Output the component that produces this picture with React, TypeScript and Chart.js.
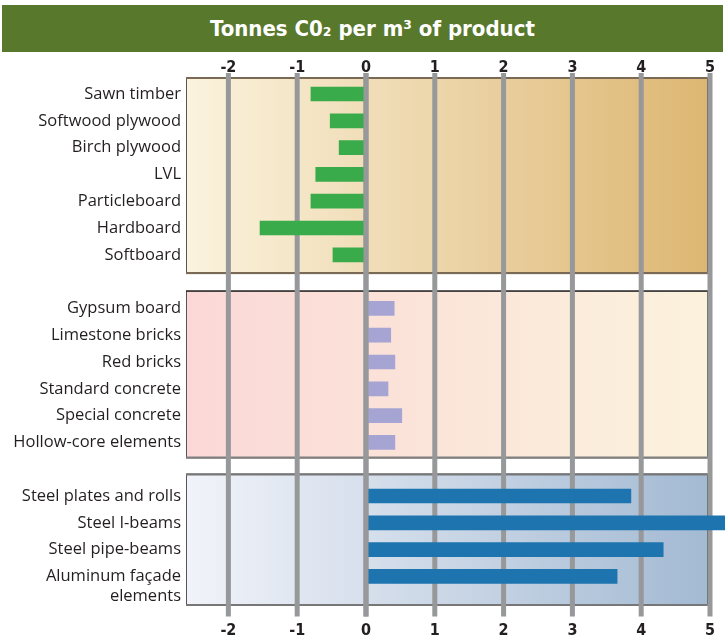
import React, { useEffect, useRef } from 'react';
import { Chart, registerables } from 'chart.js';

Chart.register(...registerables);

// ---------- data ----------
const titleText = 'Tonnes C0\u2082 per m\u00B3 of product';

const woodLabels = ['Sawn timber', 'Softwood plywood', 'Birch plywood', 'LVL', 'Particleboard', 'Hardboard', 'Softboard'];
const woodValues = [-0.8, -0.52, -0.39, -0.73, -0.8, -1.54, -0.48];

const mineralLabels = ['Gypsum board', 'Limestone bricks', 'Red bricks', 'Standard concrete', 'Special concrete', 'Hollow-core elements'];
const mineralValues = [0.41, 0.36, 0.42, 0.32, 0.52, 0.42];

const metalLabels: (string | string[])[] = ['Steel plates and rolls', 'Steel I-beams', 'Steel pipe-beams', ['Aluminum façade', 'elements']];
const metalValues = [3.85, 5.3, 4.32, 3.65];

const xTicks = [-2, -1, 0, 1, 2, 3, 4, 5];
const xMin = -2.616;
const xMax = 5.218;

// ---------- derived ----------
const categories: (string | string[])[] = [...woodLabels, '', ...mineralLabels, ' ', ...metalLabels];
const pad = (n: number) => Array(n).fill(null);
const woodData = [...woodValues, ...pad(1 + mineralLabels.length + 1 + metalLabels.length)];
const mineralData = [...pad(woodLabels.length + 1), ...mineralValues, ...pad(1 + metalLabels.length)];
const metalData = [...pad(woodLabels.length + 1 + mineralLabels.length + 1), ...metalValues];

// panel bands in category-index units
const panels = [
  { from: -0.63, to: 6.72, c0: '#fbf3de', c1: '#ddb672', top: '#7a6a55', topW: 2, bottom: '#7a6a55' },
  { from: 7.33, to: 13.6, c0: '#fbd8d7', c1: '#fbf2dc', top: '#222222', topW: 1.2, bottom: '#808080' },
  { from: 14.16, to: 19.1, c0: '#f1f3f9', c1: '#a3bad3', top: '#777777', topW: 2, bottom: '#777777' },
];

const LABEL_FONT = '16.5px "Open Sans", sans-serif';
const TICK_FONT_FAMILY = '"DejaVu Sans Condensed", "Open Sans", sans-serif';

const panelPlugin = {
  id: 'panels',
  beforeDraw(chart: any) {
    const { ctx, chartArea } = chart;
    const x = chart.scales.x;
    const y = chart.scales.y;
    const left = chartArea.left;
    const right = x.getPixelForValue(5) - 2;
    ctx.save();
    panels.forEach((p) => {
      const t = y.getPixelForValue(p.from);
      const b = y.getPixelForValue(p.to);
      const g = ctx.createLinearGradient(left, 0, right, 0);
      g.addColorStop(0, p.c0);
      g.addColorStop(1, p.c1);
      ctx.fillStyle = g;
      ctx.fillRect(left, t, right - left, b - t);
      ctx.lineWidth = 1;
      ctx.strokeStyle = '#555555';
      ctx.strokeRect(left + 0.5, t + 0.5, right - left - 1, b - t - 1);
      ctx.lineWidth = p.topW;
      ctx.strokeStyle = p.top;
      ctx.beginPath();
      ctx.moveTo(left, t + p.topW / 2);
      ctx.lineTo(right, t + p.topW / 2);
      ctx.stroke();
      ctx.lineWidth = 2;
      ctx.strokeStyle = p.bottom;
      ctx.beginPath();
      ctx.moveTo(left, b - 1);
      ctx.lineTo(right, b - 1);
      ctx.stroke();
    });
    ctx.restore();
  },
  beforeDatasetsDraw(chart: any) {
    const { ctx } = chart;
    const x = chart.scales.x;
    const y = chart.scales.y;
    const t = y.getPixelForValue(-0.78);
    const b = y.getPixelForValue(19.5);
    ctx.save();
    ctx.strokeStyle = '#97989a';
    ctx.lineWidth = 5;
    x.ticks.forEach((tk: any) => {
      const px = x.getPixelForValue(tk.value);
      ctx.beginPath();
      ctx.moveTo(px, t);
      ctx.lineTo(px, b);
      ctx.stroke();
    });
    ctx.restore();
  },
  afterDatasetsDraw(chart: any) {
    const { ctx } = chart;
    const x = chart.scales.x;
    const y = chart.scales.y;
    const px = x.getPixelForValue(0);
    ctx.save();
    ctx.strokeStyle = '#97989a';
    ctx.lineWidth = 5;
    ctx.beginPath();
    ctx.moveTo(px, y.getPixelForValue(-0.78));
    ctx.lineTo(px, y.getPixelForValue(19.5));
    ctx.stroke();
    // category labels
    ctx.fillStyle = '#231f20';
    ctx.font = LABEL_FONT;
    ctx.textAlign = 'right';
    ctx.textBaseline = 'middle';
    const lx = chart.chartArea.left - 5;
    categories.forEach((lab, i) => {
      const lines = Array.isArray(lab) ? lab : [lab];
      const py = y.getPixelForValue(i);
      lines.forEach((ln, k) => {
        if (ln.trim()) ctx.fillText(ln, lx, py + k * 20);
      });
    });
    ctx.restore();
  },
};

const axisBase = (position: 'top' | 'bottom', tickLength: number, padding: number, height: number) => ({
  type: 'linear' as const,
  position,
  min: xMin,
  max: xMax,
  grid: { display: true, drawOnChartArea: false, drawTicks: true, tickLength, tickColor: 'rgba(0,0,0,0)', color: 'rgba(0,0,0,0)' },
  border: { display: false },
  ticks: {
    padding,
    color: '#231f20',
    font: { family: TICK_FONT_FAMILY, size: 16, weight: 'bold' as const },
    maxRotation: 0,
    autoSkip: false,
  },
  afterBuildTicks(scale: any) {
    scale.ticks = xTicks.map((v) => ({ value: v }));
  },
  afterFit(scale: any) {
    scale.height = height;
  },
});

export default function App() {
  const ref = useRef<HTMLCanvasElement | null>(null);

  useEffect(() => {
    if (!ref.current) return;
    const chart = new Chart(ref.current, {
      type: 'bar',
      data: {
        labels: categories as any,
        datasets: [
          { label: 'Wood', data: woodData, backgroundColor: '#3aab4a', barThickness: 14, grouped: false, borderWidth: 0 } as any,
          { label: 'Mineral', data: mineralData, backgroundColor: '#a5a4d3', barThickness: 14, grouped: false, borderWidth: 0 } as any,
          { label: 'Metal', data: metalData, backgroundColor: '#1e74af', barThickness: 14, grouped: false, borderWidth: 0 } as any,
        ],
      },
      options: {
        indexAxis: 'y',
        responsive: false,
        animation: false,
        layout: { padding: { left: 186, top: 52, right: 0, bottom: 0 } },
        plugins: { legend: { display: false }, tooltip: { enabled: false }, title: { display: false } },
        scales: {
          x: axisBase('bottom', 28, 3, 49.2),
          xTop: axisBase('top', 0.01, 3, 28.6),
          y: { type: 'category', display: false, offset: true },
        } as any,
      },
      plugins: [panelPlugin],
    });
    return () => chart.destroy();
  }, []);

  return (
    <div style={{ position: 'absolute', left: 0, top: 0, width: 725, height: 639, background: '#ffffff' }}>
      <canvas ref={ref} width={725} height={639} style={{ position: 'absolute', left: 0, top: 0, width: 725, height: 639 }} />
      <div
        style={{
          position: 'absolute',
          left: 2,
          top: 5,
          width: 721,
          height: 47,
          background: '#58782c',
          color: '#ffffff',
          display: 'flex',
          alignItems: 'center',
          justifyContent: 'center',
          fontFamily: '"Liberation Sans Narrow", "DejaVu Sans Condensed", sans-serif',
          fontWeight: 'bold',
          fontSize: 22,
          paddingLeft: 20,
          boxSizing: 'border-box',
        }}
      >
        {titleText}
      </div>
    </div>
  );
}
